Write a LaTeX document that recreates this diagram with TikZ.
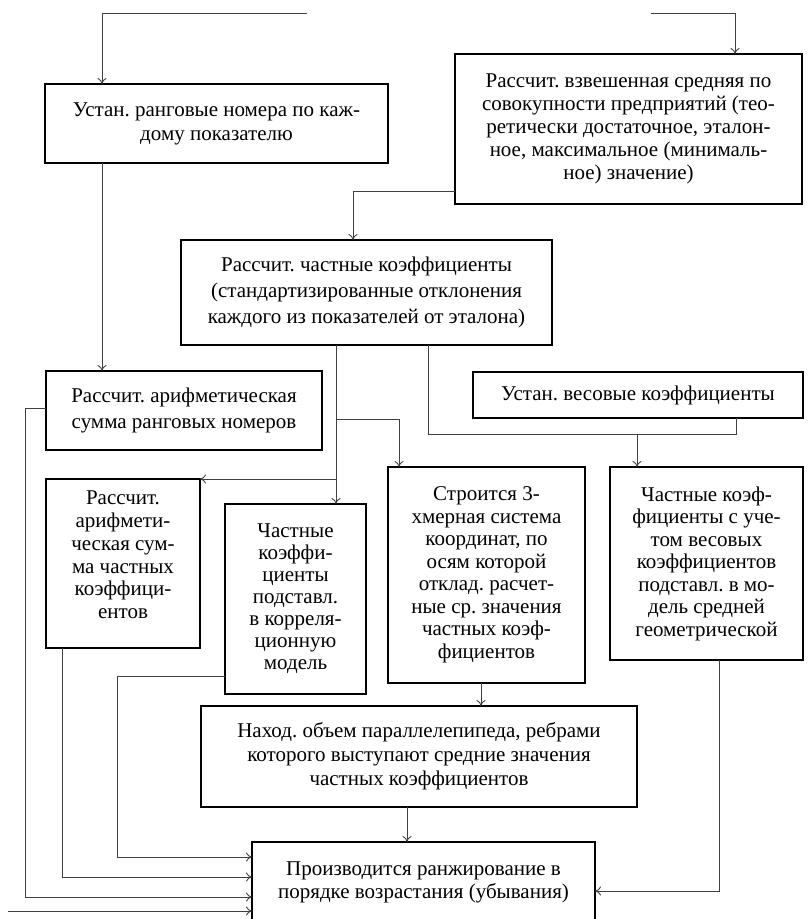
\documentclass[tikz,border=0pt]{standalone}
\usepackage{fontspec}
\setmainfont{Liberation Serif}
\usetikzlibrary{arrows.meta}
\frenchspacing
\begin{document}
\begin{tikzpicture}[x=1pt,y=-1pt,
  box/.style={draw=black,line width=2pt,inner sep=0pt,outer sep=0pt,align=center,
    font=\fontsize{21}{23}\selectfont},
  bs/.style={font=\fontsize{21}{#1}\selectfont},
  txt/.style={inner sep=0pt,outer sep=0pt,align=center},
  conn/.style={draw=black!75,line width=0.9pt},
  arr/.style={conn,-{Computer Modern Rightarrow[length=6pt,width=9pt,line width=0.9pt]}}]
\useasboundingbox (0,0) rectangle (807,919);
\clip (0,0) rectangle (807,919);

\node[box,bs=24,minimum width=343pt,minimum height=79pt] (b1) at (216.5,123.5)
  {Устан. ранговые номера по каж-\\дому показателю};
\node[box,bs=23,minimum width=347pt,minimum height=150pt] (b2) at (628.5,129)
  {Рассчит. взвешенная средняя по\\совокупности предприятий (тео-\\ретически достаточное, эталон-\\ное, максимальное (минималь-\\ное) значение)};
\node[box,bs=26,minimum width=371pt,minimum height=105pt] (b3) at (366.5,292.5)
  {Рассчит. частные коэффициенты\\(стандартизированные отклонения\\каждого из показателей от эталона)};
\node[box,bs=26,minimum width=276pt,minimum height=79pt] (b4) at (184,410.5)
  {Рассчит. арифметическая\\сумма ранговых номеров};
\node[box,minimum width=330pt,minimum height=46pt] (b5) at (638,395)
  {Устан. весовые коэффициенты};
\node[box,minimum width=154pt,minimum height=169pt] (b6) at (123,563.5) {};
\node[txt,font=\fontsize{21}{22.8}\selectfont] (t6) at (123,555)
  {Рассчит.\\арифмети-\\ческая сум-\\ма частных\\коэффици-\\ентов};
\node[box,bs=22,minimum width=141pt,minimum height=190pt] (b7) at (295.5,599)
  {Частные\\коэффи-\\циенты\\подставл.\\в корреля-\\ционную\\модель};
\node[box,bs=22.5,minimum width=197pt,minimum height=216pt] (b9) at (486.5,575)
  {Строится 3-\\хмерная система\\координат, по\\осям которой\\отклад. расчет-\\ные ср. значения\\частных коэф-\\фициентов};
\node[box,bs=22.5,minimum width=193pt,minimum height=193pt] (b8) at (706.5,563.5)
  {Частные коэф-\\фициенты с уче-\\том весовых\\коэффициентов\\подставл. в мо-\\дель средней\\геометрической};
\node[box,bs=24,minimum width=436pt,minimum height=101pt] (b10) at (419,756.5)
  {Наход. объем параллелепипеда, ребрами\\которого выступают средние значения\\частных коэффициентов};
\node[box,bs=23,minimum width=343pt,minimum height=80pt] (b11) at (423.5,882)
  {Производится ранжирование в\\порядке возрастания (убывания)};

\coordinate (tl) at (307,13);
\coordinate (tr) at (651,13);
\coordinate (free) at (8,911);

\draw[arr] (tl) -| (102,0 |- b1.north);
\draw[arr] (tr) -| (735,0 |- b2.north);
\draw[arr] (102,0 |- b1.south) -- (102,0 |- b4.north);
\draw[arr] (b2.west |- 0,191) -| (353,0 |- b3.north);
\draw[arr] (336,0 |- b3.south) -- (336,0 |- b7.north);
\draw[arr] (336,419) -| (399,0 |- b9.north);
\draw[arr] (336,479) -- (b6.north east);
\draw[conn] (428,0 |- b3.south) |- (736,434) -- (736,0 |- b5.south);
\draw[arr] (637,434) -- (637,0 |- b8.north);
\draw[arr] (b4.west |- 0,408) -| (25,897) -- (b11.west |- 0,897);
\draw[arr] (62,0 |- b6.south) |- (b11.west |- 0,877);
\draw[arr] (b7.west |- 0,676) -| (117,857) -- (b11.west |- 0,857);
\draw[arr] (free) -- (b11.west |- free);
\draw[arr] (481,0 |- b9.south) -- (481,0 |- b10.north);
\draw[arr] (407,0 |- b10.south) -- (407,0 |- b11.north);
\draw[arr] (719,0 |- b8.south) |- (b11.east |- 0,891);
\end{tikzpicture}
\end{document}
